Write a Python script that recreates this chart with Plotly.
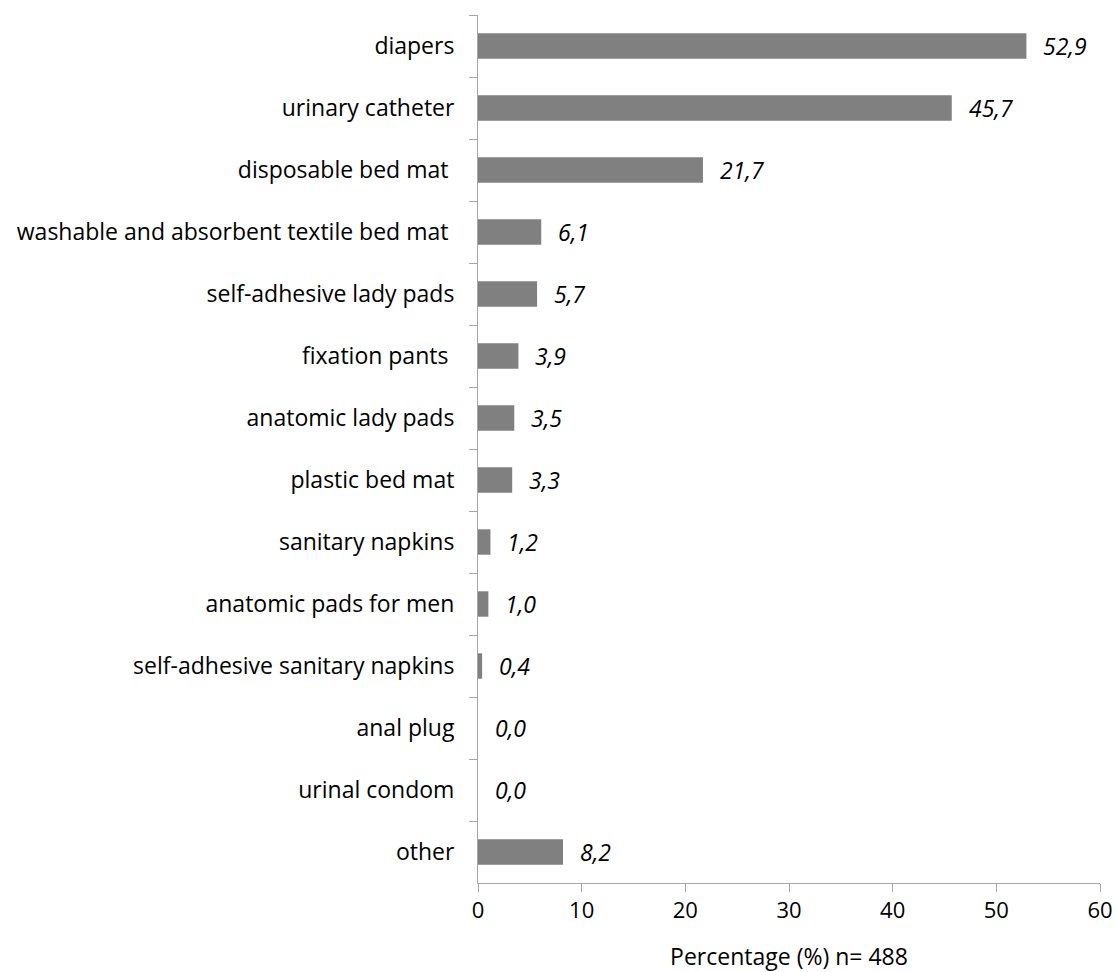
import plotly.graph_objects as go

categories = [
    "diapers", "urinary catheter", "disposable bed mat ",
    "washable and absorbent textile bed mat ", "self-adhesive lady pads",
    "fixation pants ", "anatomic lady pads", "plastic bed mat",
    "sanitary napkins", "anatomic pads for men",
    "self-adhesive sanitary napkins", "anal plug", "urinal condom", "other",
]
values = [52.9, 45.7, 21.7, 6.1, 5.7, 3.9, 3.5, 3.3, 1.2, 1.0, 0.4, 0.0, 0.0, 8.2]
x_ticks = [0, 10, 20, 30, 40, 50, 60]
x_title = "Percentage (%) n= 488"

labels = [f"{v:.1f}".replace(".", ",") for v in values]

FONT = "Open Sans"
fig = go.Figure()
fig.add_trace(go.Bar(
    x=values, y=categories, orientation="h",
    marker=dict(color="#808080", line=dict(width=0)),
    width=0.41,
    hoverinfo="skip",
))
for c, v, t in zip(categories, values, labels):
    fig.add_annotation(x=v, y=c, text=t, showarrow=False, xanchor="left",
                       xshift=15, font=dict(family=FONT, size=23, color="black", style="italic"))

fig.update_layout(
    width=1116, height=972,
    margin=dict(l=478, r=16, t=15, b=89),
    plot_bgcolor="white", paper_bgcolor="white",
    showlegend=False,
    font=dict(family=FONT, size=23, color="black"),
    xaxis=dict(range=[0, 60], tickvals=x_ticks, showgrid=False, zeroline=False,
               showline=True, linecolor="#a6a6a6", linewidth=1,
               ticks="outside", ticklen=8, tickcolor="#a6a6a6",
               tickfont=dict(size=22), automargin=False,
               title=dict(text=x_title, font=dict(size=23), standoff=26)),
    yaxis=dict(autorange="reversed", showgrid=False, zeroline=False,
               showline=True, linecolor="#a6a6a6", linewidth=1,
               ticks="outside", ticklen=8, tickcolor="#a6a6a6",
               tickson="boundaries", ticklabelstandoff=18,
               automargin=False, tickfont=dict(size=23)),
)
fig.write_html("out.html")
